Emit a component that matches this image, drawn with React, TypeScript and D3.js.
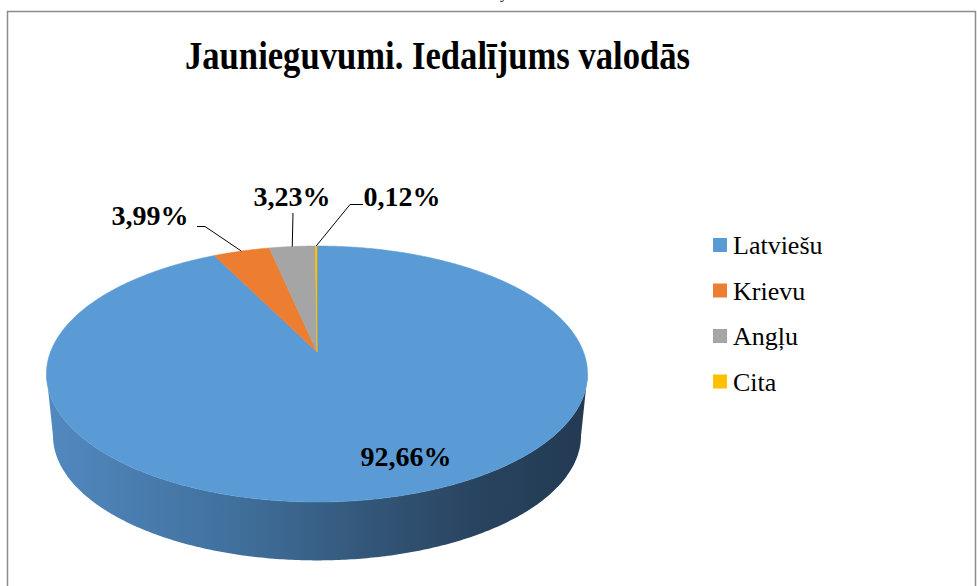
import { useEffect, useRef } from 'react'
import * as d3 from 'd3'

const title = 'Jaunieguvumi. Iedalījums valodās'
const categories = ['Latviešu', 'Krievu', 'Angļu', 'Cita']
const shares = [92.66, 3.99, 3.23, 0.12]
const labels = ['92,66%', '3,99%', '3,23%', '0,12%']
const colors = ['#5b9bd5', '#ed7d31', '#a5a5a5', '#ffc000']

// label anchors + leader elbows (layout only)
const labelPos = [[406, 466], [150, 225], [292, 206], [402, 206]]
const leaderStart = [null, [[197, 226.5], [205, 226.5]], [[293, 213]], [[363, 204.5], [350, 204.5]]]

const W = 977, H = 586
const serif = '"Liberation Serif", "Times New Roman", serif'

export default function App() {
    const ref = useRef<SVGSVGElement>(null)

    useEffect(() => {
        const svg = d3.select(ref.current)
        svg.selectAll('*').remove()

        // perspective pie: center, half axes, tilt factor, depth
        const cx = 317, cy = 352, a = 266.5, b = 124.2, k = 0.172, depth = 62, shrink = 0.976

        const project = (theta: number, r = 1, dy = 0, s = 1): [number, number] => {
            const u = Math.sin(theta) * r, v = Math.cos(theta) * r
            const w = 1 + k * v
            return [cx + a * s * u / w, cy + dy - b * s * v / w]
        }
        const arcPts = (t0: number, t1: number, dy = 0, s = 1) => {
            const n = Math.max(2, Math.ceil(Math.abs(t1 - t0) / 0.01))
            return d3.range(n + 1).map(i => project(t0 + (t1 - t0) * i / n, 1, dy, s))
        }
        const line = d3.line()

        const defs = svg.append('defs')
        const grad = defs.append('linearGradient')
            .attr('id', 'sideGrad')
            .attr('gradientUnits', 'userSpaceOnUse')
            .attr('x1', cx - a * 1.02).attr('x2', cx + a * 1.02)
            .attr('y1', 0).attr('y2', 0)
        grad.selectAll('stop')
            .data([['0%', '#5289c0'], ['35%', '#40709c'], ['60%', '#335678'], ['80%', '#29435f'], ['100%', '#223a52']])
            .join('stop')
            .attr('offset', d => d[0])
            .attr('stop-color', d => d[1])

        // frame
        svg.append('rect')
            .attr('x', 7.5).attr('y', 11.5)
            .attr('width', 968).attr('height', 600)
            .attr('fill', 'white')
            .attr('stroke', '#8c8c8c')
            .attr('stroke-width', 1.5)

        svg.append('text')
            .attr('x', 500).attr('y', -2)
            .style('font-family', serif).style('font-size', '16px')
            .text('y')

        svg.append('text')
            .attr('x', 437.5).attr('y', 69)
            .attr('text-anchor', 'middle')
            .attr('textLength', 505)
            .attr('lengthAdjust', 'spacingAndGlyphs')
            .style('font-family', serif)
            .style('font-weight', 'bold')
            .style('font-size', '40px')
            .text(title)

        // side of the cylinder (front half)
        const tR = Math.acos(-k), tL = 2 * Math.PI - tR
        const sidePts = arcPts(tR, tL).concat(arcPts(tL, tR, depth, shrink))
        svg.append('path')
            .attr('d', line(sidePts) + 'Z')
            .attr('fill', 'url(#sideGrad)')

        // top face slices
        const pie = d3.pie<number>().sort(null).value(d => d)
        const arcs = pie(shares)

        svg.append('g')
            .selectAll('path')
            .data(arcs)
            .join('path')
            .attr('d', d => line([[cx, cy] as [number, number]].concat(arcPts(d.startAngle, d.endAngle))) + 'Z')
            .attr('fill', (d, i) => colors[i])
            .attr('stroke', (d, i) => colors[i])
            .attr('stroke-width', 0.6)

        // leader lines
        arcs.forEach((d, i) => {
            const pts = leaderStart[i]
            if (!pts) return
            const mid = project((d.startAngle + d.endAngle) / 2)
            svg.append('path')
                .attr('d', line((pts as [number, number][]).concat([mid])))
                .attr('fill', 'none')
                .attr('stroke', 'black')
                .attr('stroke-width', 1)
        })

        svg.append('g')
            .selectAll('text')
            .data(labels)
            .join('text')
            .attr('x', (d, i) => labelPos[i][0])
            .attr('y', (d, i) => labelPos[i][1])
            .attr('text-anchor', 'middle')
            .style('font-family', serif)
            .style('font-weight', 'bold')
            .style('font-size', '28px')
            .text(d => d)

        // legend
        const legend = svg.append('g').attr('transform', 'translate(713, 238)')
        const rows = legend.selectAll('g')
            .data(categories)
            .join('g')
            .attr('transform', (d, i) => `translate(0, ${i * 45.5})`)
        rows.append('rect')
            .attr('width', 14).attr('height', 14)
            .attr('fill', (d, i) => colors[i])
        rows.append('text')
            .attr('x', 20).attr('y', 16)
            .style('font-family', serif)
            .style('font-size', '26px')
            .text(d => d)
    }, [])

    return (
        <svg ref={ref} width={W} height={H}
            style={{ position: 'absolute', left: 0, top: 0, background: 'white' }} />
    )
}
